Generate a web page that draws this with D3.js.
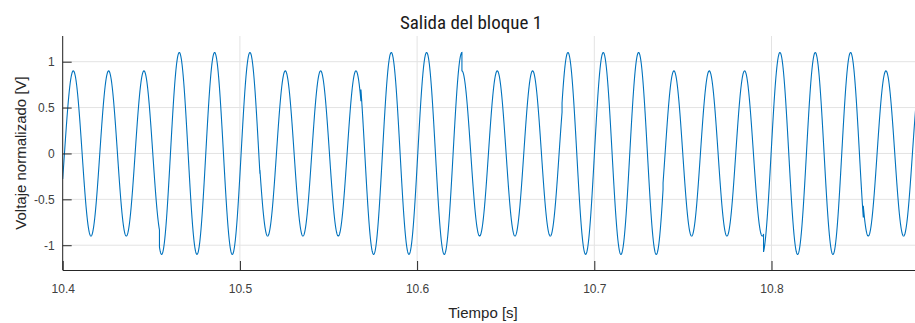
<!DOCTYPE html>
<html>
<head>
<meta charset="utf-8">
<script src="https://cdn.jsdelivr.net/npm/d3@7"></script>
<style>
  html, body { margin: 0; padding: 0; background: #fff; }
  svg { display: block; }
</style>
</head>
<body>
<svg id="chart" width="915" height="323"></svg>
<script>
// Axis ticks
const xTicks = [10.4, 10.5, 10.6, 10.7, 10.8];
const yTicks = [-1, -0.5, 0, 0.5, 1];

// Amplitude-keyed carrier: symbol boundaries [s] and the amplitude held in each symbol
const symbolEdges = [10.4, 10.4546, 10.5113, 10.5683, 10.6253, 10.6818, 10.7388, 10.7955, 10.8518, 10.9];
const symbolAmplitudes = [0.9, 1.1, 0.9, 1.1, 0.9, 1.1, 0.9, 1.1, 0.9];

// Carrier: time of the first crest and its period [s]
const carrierPeakTime = 10.40598;
const carrierPeriod = 0.019939;

const svg = d3.select("#chart");
const margin = { left: 62.7, top: 36, bottom: 270 };

const x = d3.scaleLinear().domain([10.4, 10.9]).range([margin.left, margin.left + 886]);
const y = d3.scaleLinear().domain([-1.27, 1.28]).range([margin.bottom, margin.top]);

// Build samples of the waveform, with a double point at every symbol edge
const step = 0.0001;
const samples = [];
for (let i = 0; i < symbolAmplitudes.length; i++) {
  const t0 = symbolEdges[i], t1 = symbolEdges[i + 1], a = symbolAmplitudes[i];
  const n = Math.ceil((t1 - t0) / step);
  for (let k = 0; k <= n; k++) {
    const t = t0 + (t1 - t0) * k / n;
    samples.push({ t, v: a * Math.cos(2 * Math.PI * (t - carrierPeakTime) / carrierPeriod) });
  }
}

// Clip region for the plot
svg.append("defs").append("clipPath").attr("id", "plotClip")
  .append("rect").attr("x", margin.left).attr("y", margin.top)
  .attr("width", 915 - margin.left).attr("height", margin.bottom - margin.top);

// Grid
const grid = svg.append("g");
grid.selectAll("line.gx").data(xTicks).join("line")
  .attr("x1", d => x(d)).attr("x2", d => x(d))
  .attr("y1", margin.top).attr("y2", margin.bottom)
  .attr("stroke", "#e3e3e3").attr("stroke-width", 1);
grid.selectAll("line.gy").data(yTicks).join("line")
  .attr("x1", margin.left).attr("x2", 915)
  .attr("y1", d => y(d)).attr("y2", d => y(d))
  .attr("stroke", "#e3e3e3").attr("stroke-width", 1);

// Waveform
svg.append("path")
  .datum(samples)
  .attr("clip-path", "url(#plotClip)")
  .attr("fill", "none")
  .attr("stroke", "#0072BD")
  .attr("stroke-width", 1.1)
  .attr("d", d3.line().x(d => x(d.t)).y(d => y(d.v)));

// Axes with inward ticks
const fmt = d => String(d);
const xAxis = svg.append("g")
  .attr("transform", `translate(0,${margin.bottom})`)
  .call(d3.axisBottom(x).tickValues(xTicks).tickSize(-9).tickPadding(14).tickFormat(fmt));
xAxis.select(".domain").attr("d", `M${margin.left},0.5H915`);

const yAxis = svg.append("g")
  .attr("transform", `translate(${margin.left},0)`)
  .call(d3.axisLeft(y).tickValues(yTicks).tickSize(-9).tickPadding(8).tickFormat(fmt));
yAxis.select(".domain").attr("d", `M0,${margin.top}V${margin.bottom}`);

[xAxis, yAxis].forEach(g => {
  g.select(".domain").attr("stroke", "#262626").attr("stroke-width", 1);
  g.selectAll(".tick line").attr("stroke", "#262626");
  g.selectAll(".tick text")
    .attr("fill", "#404040")
    .style("font-family", "'Liberation Sans', Arial, sans-serif")
    .style("font-size", "12px");
});

// Title and axis labels
svg.append("text")
  .attr("x", 471).attr("y", 29)
  .attr("text-anchor", "middle")
  .style("font-family", "'Liberation Sans Narrow', 'Roboto Condensed', 'DejaVu Sans Condensed', sans-serif")
  .style("font-size", "19px")
  .attr("fill", "#1a1a1a")
  .text("Salida del bloque 1");

svg.append("text")
  .attr("x", 483).attr("y", 318)
  .attr("text-anchor", "middle")
  .style("font-family", "'Liberation Sans', Arial, sans-serif")
  .style("font-size", "15px")
  .attr("fill", "#262626")
  .text("Tiempo [s]");

svg.append("text")
  .attr("transform", "translate(26,153) rotate(-90)")
  .attr("text-anchor", "middle")
  .style("font-family", "'Liberation Sans', Arial, sans-serif")
  .style("font-size", "15px")
  .attr("fill", "#262626")
  .text("Voltaje normalizado [V]");
</script>
</body>
</html>
